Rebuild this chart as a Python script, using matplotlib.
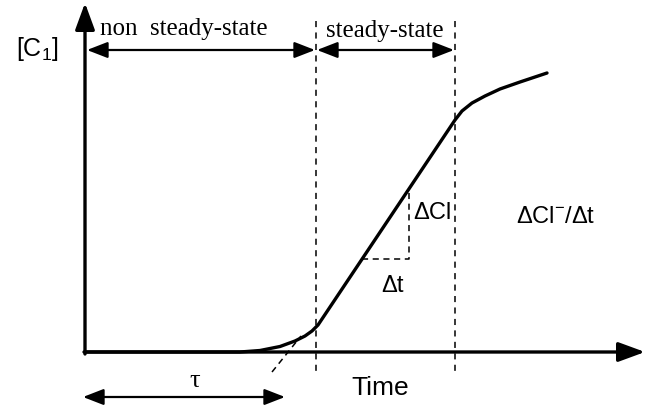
import matplotlib.pyplot as plt

# diagram laid out in image pixel units (origin top-left, y grows downward)
curve_t = [85, 240, 260, 280, 295, 305, 312, 318, 455, 462, 472, 485, 500, 520, 547]
curve_c = [353, 353, 351.5, 347.5, 342, 337, 332, 326, 121, 112, 104, 97, 90, 83, 74]

tangent_t = [272, 301]
tangent_c = [373, 337]

step_t = [362, 409, 409]
step_c = [260, 260, 190]

region_edges = [316, 455]

plt.rcParams['font.family'] = ['Liberation Sans', 'DejaVu Sans']
plt.rcParams['mathtext.fontset'] = 'custom'
plt.rcParams['mathtext.rm'] = 'Liberation Sans'
plt.rcParams['mathtext.it'] = 'Liberation Sans'
serif = ['Liberation Serif', 'DejaVu Serif']

fig = plt.figure(figsize=(6.46, 4.10), dpi=100)
ax = fig.add_axes([0, 0, 1, 1])
ax.set_xlim(0, 646)
ax.set_ylim(410, 0)
ax.axis('off')

# axes with arrow heads
axis_style = dict(arrowstyle='-|>,head_length=0.9,head_width=0.33', lw=2.4,
                  color='black', shrinkA=0, shrinkB=0, mutation_scale=18)
ax.annotate('', xy=(85, 4), xytext=(85, 355), arrowprops=axis_style)
ax.annotate('', xy=(645, 353), xytext=(84, 353), arrowprops=axis_style)

# region boundaries
for x in region_edges:
    ax.plot([x, x], [22, 376], color='black', lw=1.1, ls=(0, (4, 3.5)))

# curve and construction lines
ax.plot(curve_t, curve_c, color='black', lw=2.4, solid_capstyle='round')
ax.plot(tangent_t, tangent_c, color='black', lw=1.1, ls=(0, (4, 3)))
ax.plot(step_t, step_c, color='black', lw=1.1, ls=(0, (4, 3)))

# double-headed span arrows
span_style = dict(arrowstyle='<|-|>,head_length=0.9,head_width=0.35', lw=1.6,
                  color='black', shrinkA=0, shrinkB=0, mutation_scale=14)
ax.annotate('', xy=(87, 51), xytext=(315, 51), arrowprops=span_style)
ax.annotate('', xy=(317, 51), xytext=(454, 51), arrowprops=span_style)
ax.annotate('', xy=(83, 398), xytext=(285, 398), arrowprops=span_style)

# labels
ax.text(100, 29, 'non  steady-state', family=serif, fontsize=18, ha='left', va='center')
ax.text(385, 31, 'steady-state', family=serif, fontsize=18, ha='center', va='center')
ax.text(37, 49, '[C$_1$]', fontsize=18, ha='center', va='center')
ax.text(413, 213, '\u0394Cl', fontsize=17, ha='left', va='center')
ax.text(556, 217, '\u0394Cl$^{-}$/\u0394t', fontsize=17, ha='center', va='center')
ax.text(393, 286, '\u0394t', fontsize=17, ha='center', va='center')
ax.text(380, 388, 'Time', fontsize=19, ha='center', va='center')
ax.text(195, 381, '\u03c4', family=serif, fontsize=19, ha='center', va='center')

fig.savefig('out.png', dpi=100)
